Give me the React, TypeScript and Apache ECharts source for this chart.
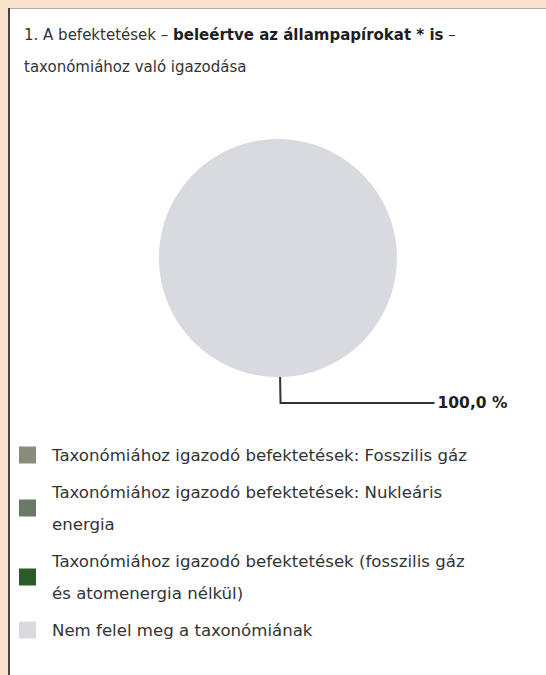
import React, { useEffect, useRef } from "react";
import * as echarts from "echarts";

const categories = [
  "Taxonómiához igazodó befektetések: Fosszilis gáz",
  "Taxonómiához igazodó befektetések: Nukleáris\nenergia",
  "Taxonómiához igazodó befektetések (fosszilis gáz\nés atomenergia nélkül)",
  "Nem felel meg a taxonómiának",
];
const values = [0, 0, 0, 100.0];
const colors = ["#8b8c7b", "#6a7a66", "#2c5a28", "#d9dadf"];
const titleLine1Normal = "1. A befektetések – ";
const titleLine1Bold = "beleértve az állampapírokat * is";
const titleLine1End = " –";
const titleLine2 = "taxonómiához való igazodása";

export default function App() {
  const ref = useRef<HTMLDivElement>(null);
  useEffect(() => {
    if (!ref.current) return;
    const chart = echarts.init(ref.current, null, { renderer: "svg" });
    const font = "'DejaVu Sans', 'Noto Sans', sans-serif";
    chart.setOption({
      animation: false,
      backgroundColor: "#fce4cc",
      graphic: [
        { type: "rect", shape: { x: 8, y: 8, width: 560, height: 700 }, style: { fill: "#ffffff" }, z: -10 },
        { type: "line", shape: { x1: 8, y1: 8.5, x2: 546, y2: 8.5 }, style: { stroke: "#b4b0ac", lineWidth: 1 }, z: -9 },
        { type: "line", shape: { x1: 9, y1: 8, x2: 9, y2: 675 }, style: { stroke: "#4a4540", lineWidth: 2 }, z: -9 },
      ],
      title: {
        left: 24,
        top: 19,
        padding: 0,
        text:
          "{n|" + titleLine1Normal + "}{b|" + titleLine1Bold + "}{n|" + titleLine1End + "}\n{n|" + titleLine2 + "}",
        textStyle: {
          fontFamily: font,
          fontWeight: "normal",
          rich: {
            n: { fontSize: 15, color: "#333333", fontWeight: "normal", lineHeight: 32, fontFamily: font },
            b: { fontSize: 15, color: "#1e1e1e", fontWeight: "bold", lineHeight: 32, fontFamily: font },
          },
        },
      },
      legend: {
        orient: "vertical",
        left: 19,
        top: 439,
        padding: 0,
        itemWidth: 17,
        itemHeight: 17,
        itemGap: 5,
        icon: "rect",
        selectedMode: false,
        textStyle: {
          fontFamily: font,
          fontSize: 16.6,
          color: "#333333",
          lineHeight: 32,
          padding: [0, 0, 0, 11],
        },
        data: categories,
      },
      series: [
        {
          type: "pie",
          center: [278, 258],
          radius: 119,
          startAngle: 91,
          clockwise: true,
          silent: true,
          stillShowZeroSum: true,
          label: { show: false },
          labelLine: { show: false },
          data: categories.map((name, i) => ({
            name,
            value: values[i],
            itemStyle: { color: colors[i] },
            label:
              i === 3
                ? {
                    show: true,
                    formatter: (p: any) => p.value.toFixed(1).replace(".", ",") + " %",
                    fontFamily: font,
                    fontSize: 15.5,
                    fontWeight: "bold",
                    color: "#1e1e1e",
                    distanceToLabelLine: 3,
                  }
                : { show: false },
            labelLine:
              i === 3
                ? { show: true, length: 26, length2: 154, lineStyle: { color: "#333333", width: 2 } }
                : { show: false },
          })),
        },
      ],
    });
    return () => chart.dispose();
  }, []);
  return <div ref={ref} style={{ position: "fixed", left: 0, top: 0, width: 546, height: 675 }} />;
}
